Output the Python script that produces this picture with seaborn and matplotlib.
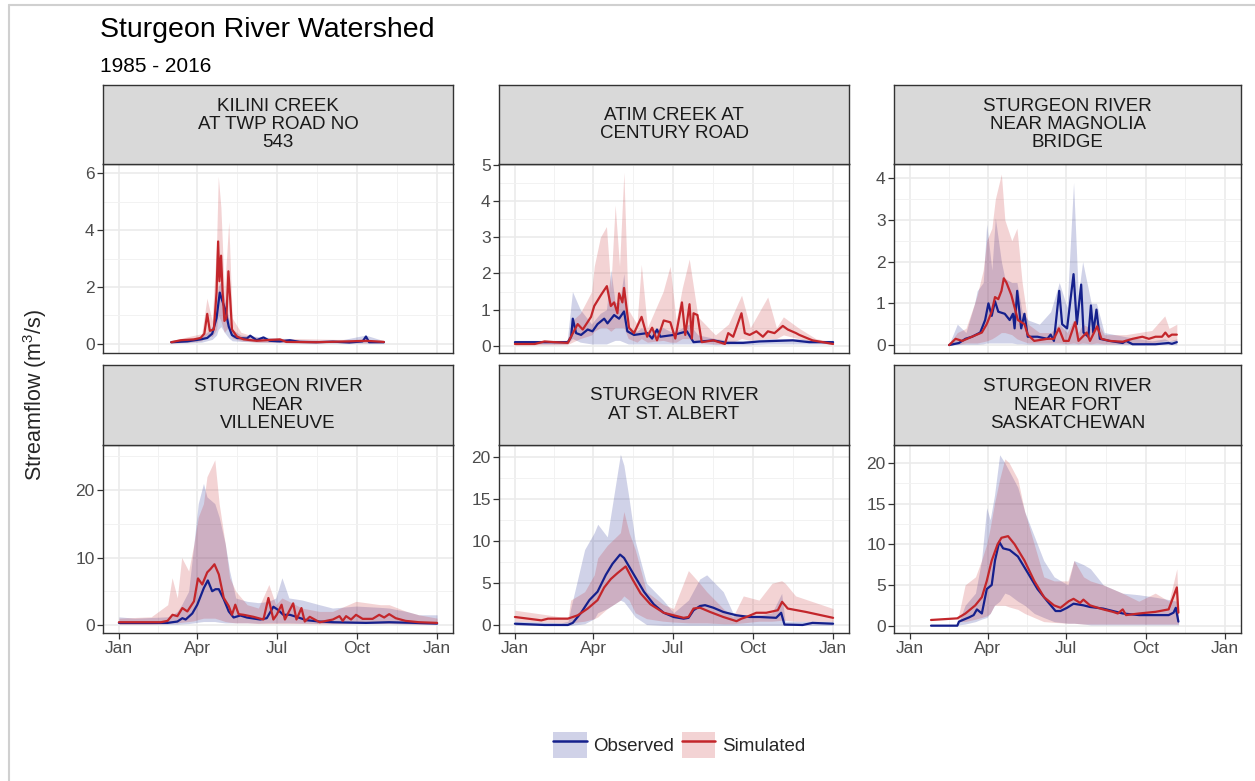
import pandas as pd
import matplotlib
matplotlib.use("Agg")
import matplotlib.pyplot as plt
from matplotlib.lines import Line2D
from matplotlib.patches import Patch
from matplotlib.legend_handler import HandlerTuple
from matplotlib.ticker import MultipleLocator, FixedLocator
import seaborn as sns

sns.set_theme(style="white")
plt.rcParams["font.family"] = ["Liberation Sans", "DejaVu Sans"]
plt.rcParams["mathtext.default"] = "regular"

# ---- data (day of year, median flow and 5-95% band) ----
# Kilini Creek at Twp Road No 543
kil_obs_day = [60, 78.5, 93.7, 101.3, 107, 112, 115.7, 118.7, 122, 126, 129.7, 135.4, 146.8, 150.6, 158, 165.8,
               173, 184.7, 196, 207.5, 226.5, 245.4, 264.4, 279.6, 283.4, 287, 304]
kil_obs = [0.05, 0.08, 0.15, 0.2, 0.35, 0.9, 1.8, 1.5, 1.2, 0.6, 0.3, 0.2, 0.18, 0.28, 0.12, 0.22,
           0.1, 0.08, 0.12, 0.06, 0.05, 0.07, 0.04, 0.08, 0.25, 0.05, 0.05]
kil_sim_day = [60, 71, 86, 93.7, 98, 101.3, 104.3, 108.9, 112, 113.8, 115.3, 117.2, 119, 121, 123.3, 125.6,
               127.8, 129.7, 135.4, 143, 158, 184.7, 192, 226.5, 264.4, 283.4, 304]
kil_sim = [0.05, 0.12, 0.15, 0.2, 0.35, 1.05, 0.45, 0.5, 1.8, 3.6, 2.2, 3.1, 1.8, 0.8, 0.9, 2.55,
           1.5, 0.5, 0.25, 0.15, 0.1, 0.15, 0.06, 0.05, 0.08, 0.1, 0.06]
kil_band_day = [60, 80, 95, 101, 107, 112, 114, 117, 121, 126, 130, 140, 160, 200, 250, 283, 304]
kil_obs_lo = [0.02, 0.03, 0.05, 0.1, 0.15, 0.3, 0.5, 0.6, 0.4, 0.2, 0.1, 0.08, 0.05, 0.03, 0.02, 0.02, 0.02]
kil_obs_hi = [0.12, 0.15, 0.25, 0.4, 0.6, 1.5, 2.0, 2.2, 1.6, 0.9, 0.5, 0.3, 0.25, 0.15, 0.1, 0.3, 0.1]
kil_sim_lo = [0.02, 0.05, 0.1, 0.3, 0.25, 0.5, 1.0, 0.8, 0.4, 0.6, 0.2, 0.1, 0.05, 0.05, 0.04, 0.03, 0.03]
kil_sim_hi = [0.1, 0.25, 0.35, 1.6, 0.8, 3.5, 5.9, 4.8, 1.8, 4.3, 0.9, 0.4, 0.2, 0.18, 0.15, 0.15, 0.12]

# Atim Creek at Century Road
atim_obs_day = [0, 34, 60.7, 64.5, 66.4, 70.2, 75.9, 83.5, 89, 94.8, 102.4, 106.2, 113.8, 119.5, 125.2, 129,
                136.6, 151.7, 157.4, 163, 166.9, 182, 197.3, 204.9, 227.6, 242.8, 261.8, 280.7, 318.7, 337.6, 365]
atim_obs = [0.1, 0.1, 0.1, 0.25, 0.75, 0.35, 0.3, 0.45, 0.4, 0.6, 0.75, 0.62, 0.85, 0.75, 0.95, 0.4,
            0.3, 0.35, 0.2, 0.45, 0.25, 0.3, 0.4, 0.1, 0.15, 0.08, 0.08, 0.12, 0.15, 0.1, 0.1]
atim_sim_day = [0, 22.8, 34, 45.5, 60.7, 72, 77.8, 87.3, 91, 98.6, 105.5, 110, 113.8, 117.6, 119.5, 123.3,
                125.2, 130.9, 136.6, 145.3, 151.7, 157.4, 163, 170.7, 178.3, 184, 191.6, 195.4, 200.3, 203,
                204.9, 209.4, 214.3, 227.6, 240.9, 244.7, 250.4, 259.9, 263.7, 269.3, 277, 284.5, 290.2,
                297.8, 307.3, 313, 322.5, 326.3, 341.4, 365]
atim_sim = [0.05, 0.05, 0.12, 0.1, 0.08, 0.6, 0.45, 0.8, 1.1, 1.4, 1.65, 1.1, 1.2, 0.9, 1.45, 1.2,
            1.6, 0.5, 0.35, 0.8, 0.25, 0.5, 0.15, 0.7, 0.65, 0.2, 1.2, 0.3, 1.15, 0.2,
            0.9, 0.85, 0.1, 0.15, 0.05, 0.35, 0.25, 0.9, 0.35, 0.3, 0.4, 0.25, 0.4,
            0.35, 0.55, 0.45, 0.35, 0.3, 0.15, 0.05]
atim_band_day = [0, 60, 66, 75, 88, 91, 98, 105, 110, 115, 120, 125, 130, 140, 145, 152, 170, 178, 185, 192,
                 200, 210, 230, 245, 260, 270, 290, 300, 308, 325, 345, 365]
atim_obs_lo = [0.05, 0.05, 0.2, 0.1, 0.05, 0.05, 0.05, 0.05, 0.1, 0.15, 0.15, 0.1, 0.05, 0.05, 0.05, 0.05,
               0.05, 0.05, 0.05, 0.05, 0.05, 0.05, 0.03, 0.03, 0.03, 0.03, 0.05, 0.05, 0.05, 0.05, 0.05, 0.05]
atim_obs_hi = [0.15, 0.15, 1.5, 1.0, 0.6, 0.7, 0.9, 1.0, 2.1, 1.2, 1.2, 2.0, 0.5, 0.4, 0.5, 0.4,
               0.5, 0.4, 0.4, 0.5, 0.6, 0.3, 0.2, 0.15, 0.15, 0.15, 0.2, 0.2, 0.2, 0.2, 0.15, 0.15]
atim_sim_lo = [0.02, 0.03, 0.1, 0.2, 0.3, 0.4, 0.5, 0.5, 0.4, 0.5, 0.5, 0.5, 0.2, 0.1, 0.2, 0.1,
               0.15, 0.1, 0.1, 0.2, 0.2, 0.1, 0.05, 0.05, 0.2, 0.15, 0.2, 0.2, 0.3, 0.2, 0.1, 0.03]
atim_sim_hi = [0.1, 0.15, 0.7, 0.9, 1.5, 2.2, 3.0, 3.3, 1.6, 3.9, 2.2, 4.8, 1.0, 0.6, 2.25, 0.5,
               1.5, 2.2, 0.7, 1.6, 2.4, 0.8, 0.3, 0.6, 1.4, 0.5, 1.35, 0.5, 0.8, 0.5, 0.2, 0.1]

# Sturgeon River near Magnolia Bridge
mag_obs_day = [45.5, 56.9, 64.4, 72, 81.5, 87.2, 91, 94.8, 98.6, 102.4, 109.9, 115.6, 119.4, 121.3, 124.3,
               128.9, 132.7, 136.5, 147.8, 159.2, 163, 166.8, 172.9, 176.3, 182, 189.5, 193.3, 198.3, 201,
               206.6, 209.6, 212.3, 216, 219.9, 231.2, 246.4, 250.2, 257.8, 284.3, 299.5, 303.3, 309]
mag_obs = [0.0, 0.05, 0.15, 0.2, 0.3, 0.6, 1.0, 0.7, 1.05, 0.8, 0.75, 0.6, 0.75, 0.4, 1.3,
           0.4, 0.75, 0.2, 0.2, 0.15, 0.25, 0.1, 1.3, 0.5, 0.4, 1.7, 0.5, 1.45, 0.3,
           0.2, 0.95, 0.3, 0.85, 0.15, 0.1, 0.05, 0.1, 0.02, 0.02, 0.05, 0.03, 0.07]
mag_sim_day = [45.5, 53, 60.7, 72, 83.4, 89, 94.8, 98.6, 102.4, 106.1, 108.8, 111.8, 117.5, 121.3, 125.1,
               132.7, 136.5, 144, 159.2, 166.8, 172.5, 178.2, 183.9, 191.4, 195.2, 204.7, 208.5, 216.8,
               221.8, 231.2, 246.4, 257.8, 269.1, 276.7, 284.3, 291.9, 295.7, 299.5, 303.3, 309]
mag_sim = [0.0, 0.15, 0.1, 0.2, 0.3, 0.5, 0.8, 1.15, 1.1, 1.3, 1.6, 1.5, 1.2, 0.9, 0.6,
           0.5, 0.25, 0.1, 0.15, 0.15, 0.4, 0.1, 0.1, 0.55, 0.1, 0.3, 0.1, 0.45,
           0.15, 0.1, 0.08, 0.15, 0.2, 0.15, 0.2, 0.2, 0.3, 0.2, 0.25, 0.25]
mag_band_day = [45.5, 55, 65, 75, 78, 85, 89, 95, 99, 106, 110, 118, 124, 130, 137, 150, 163, 173, 182, 189.5,
                195, 200, 210, 216, 225, 250, 280, 295, 300, 309]
mag_obs_lo = [0.0, 0.01, 0.02, 0.02, 0.02, 0.03, 0.05, 0.05, 0.05, 0.05, 0.05, 0.05, 0.03, 0.03, 0.02,
              0.02, 0.02, 0.02, 0.02, 0.02, 0.02, 0.02, 0.02, 0.02, 0.02, 0.01, 0.01, 0.01, 0.01, 0.01]
mag_obs_hi = [0.02, 0.5, 0.3, 1.0, 1.3, 1.5, 2.9, 1.8, 3.05, 2.0, 1.6, 1.5, 1.5, 0.8, 0.6,
              0.5, 0.8, 1.5, 0.9, 3.9, 1.2, 2.0, 1.0, 1.0, 0.3, 0.2, 0.1, 0.15, 0.1, 0.15]
mag_sim_lo = [0.0, 0.02, 0.05, 0.05, 0.05, 0.08, 0.1, 0.15, 0.2, 0.3, 0.3, 0.25, 0.15, 0.1, 0.05,
              0.05, 0.05, 0.05, 0.03, 0.05, 0.03, 0.05, 0.03, 0.05, 0.03, 0.03, 0.05, 0.1, 0.1, 0.1]
mag_sim_hi = [0.02, 0.3, 0.4, 1.0, 1.2, 1.8, 2.5, 2.8, 3.5, 4.1, 3.0, 2.5, 2.8, 1.5, 0.5,
              0.3, 0.3, 0.5, 0.3, 0.6, 0.3, 0.5, 0.4, 0.6, 0.25, 0.25, 0.35, 0.7, 0.4, 0.5]

# Sturgeon River near Villeneuve
vil_obs_day = [0, 17.8, 55.8, 67.1, 72.8, 76.6, 84.2, 89.9, 97.5, 102, 107, 110.8, 114.6, 120.3, 126, 131.6,
               139.2, 146.8, 162, 169.6, 177.2, 182.9, 188.5, 196.1, 203.7, 215.1, 230.3, 245.4, 283.4, 310,
               340.3, 365]
vil_obs = [0.3, 0.3, 0.3, 0.5, 1.0, 0.8, 1.7, 3.0, 5.5, 6.6, 5.0, 5.3, 5.3, 3.8, 2.0, 1.1,
           1.4, 1.1, 0.8, 1.0, 2.7, 2.2, 1.5, 1.5, 1.2, 0.7, 0.5, 0.4, 0.3, 0.4, 0.3, 0.2]
vil_sim_day = [0, 48.2, 55.8, 61.5, 67.1, 72.8, 78.5, 86.1, 90.7, 95.6, 101.3, 105.1, 109.6, 114.6, 120.3,
               126, 129.7, 133.5, 137.3, 143, 154.4, 165.8, 171.5, 177.2, 181, 186.6, 190.4, 199.9, 203.7,
               209.4, 213.2, 218.9, 230.3, 245.4, 253, 256.8, 260.6, 266.3, 272, 279.6, 291, 298.6, 304.3,
               310, 317.5, 328.9, 344.1, 365]
vil_sim = [0.4, 0.4, 0.6, 1.5, 1.3, 2.5, 2.0, 3.5, 6.9, 6.0, 7.8, 8.3, 9.0, 7.5, 4.0,
           2.8, 1.5, 3.0, 1.6, 1.5, 1.2, 0.8, 4.0, 0.8, 1.5, 3.0, 0.8, 3.2, 0.8,
           2.5, 0.5, 1.2, 0.4, 0.8, 1.3, 0.6, 1.3, 0.8, 1.5, 0.9, 0.9, 1.5, 1.1,
           1.6, 1.0, 0.6, 0.4, 0.3]
vil_band_day = [0, 18, 37, 56, 61, 67, 72, 80, 86, 91, 97, 101, 110, 115, 122, 127, 134, 147, 160, 172, 180,
                187, 195, 210, 230, 245, 272, 300, 310, 330, 344, 365]
vil_obs_lo = [0.1, 0.1, 0.1, 0.1, 0.1, 0.1, 0.15, 0.2, 0.3, 0.4, 0.5, 0.5, 0.5, 0.4, 0.3, 0.3, 0.3, 0.3,
              0.25, 0.3, 0.3, 0.3, 0.3, 0.25, 0.2, 0.2, 0.2, 0.2, 0.2, 0.15, 0.1, 0.1]
vil_obs_hi = [1.2, 1.0, 1.1, 1.2, 1.5, 2.0, 3.0, 5.0, 12.0, 18.0, 21.0, 19.0, 18.0, 16.0, 12.0, 8.0, 4.0, 3.5,
              3.3, 3.5, 4.0, 7.0, 4.0, 3.7, 3.0, 2.5, 2.8, 2.6, 2.5, 2.0, 1.5, 1.5]
vil_sim_lo = [0.1, 0.1, 0.1, 0.2, 0.3, 0.3, 0.4, 0.5, 0.6, 0.8, 1.0, 1.0, 1.0, 0.8, 0.5, 0.4, 0.3, 0.3,
              0.2, 0.2, 0.2, 0.2, 0.2, 0.2, 0.15, 0.15, 0.2, 0.2, 0.2, 0.15, 0.1, 0.1]
vil_sim_hi = [1.0, 1.1, 1.2, 3.0, 7.0, 4.0, 10.0, 8.0, 12.0, 16.0, 18.0, 22.0, 24.5, 18.0, 12.0, 7.0, 5.0, 3.0,
              2.5, 6.0, 3.0, 4.0, 3.5, 2.5, 2.0, 2.0, 3.5, 3.0, 3.0, 2.0, 1.5, 1.0]

# Sturgeon River at St. Albert
stal_obs_day = [0, 34, 60.7, 66.4, 75.9, 85.4, 94.8, 104.3, 111.9, 120.6, 125.2, 136.6, 148, 159.3, 170.7,
                182.1, 193.5, 199.2, 204.9, 212.4, 218.1, 227.6, 239, 254.2, 269.3, 280.7, 299.7, 305.4,
                309.2, 330, 341.4, 365]
stal_obs = [0.2, 0.05, 0.05, 0.3, 1.5, 3.0, 4.0, 6.0, 7.3, 8.4, 8.0, 6.0, 4.0, 2.5, 1.5,
            1.0, 0.8, 0.9, 1.8, 2.3, 2.4, 2.1, 1.6, 1.2, 1.0, 1.0, 0.9, 1.5,
            0.1, 0.05, 0.3, 0.2]
stal_sim_day = [0, 15.2, 30.3, 37.9, 60.7, 72.1, 83.5, 94.8, 102.4, 110, 117.6, 127.1, 134.7, 144.2, 155.5,
                170.7, 182.1, 193.5, 199.2, 204.9, 212.4, 223.8, 239, 254.2, 259.9, 265.6, 276.9, 288.3,
                301.6, 306.5, 313, 333.8, 365]
stal_sim = [1.0, 0.8, 0.6, 0.8, 0.8, 1.2, 2.0, 3.0, 4.5, 5.5, 6.2, 7.0, 5.5, 3.8, 2.5,
            1.5, 1.2, 0.9, 1.0, 2.0, 2.1, 1.6, 1.0, 0.5, 0.8, 1.0, 1.5, 1.5,
            1.8, 2.8, 2.0, 1.6, 0.9]
stal_band_day = [0, 34, 53, 61, 64, 80, 91, 95, 106, 121, 125, 131, 138, 151, 170, 182, 199, 212, 220, 239,
                 250, 262, 280, 295, 306, 310, 322, 365]
stal_obs_lo = [0.0, 0.0, 0.0, 0.0, 0.0, 0.2, 0.8, 1.5, 2.0, 3.0, 2.8, 2.0, 1.0, 0.1, 0.0, 0.0, 0.0, 0.0,
               0.0, 0.0, 0.0, 0.0, 0.0, 0.0, 0.0, 0.0, 0.0, 0.0]
stal_obs_hi = [0.5, 0.4, 0.3, 0.5, 2.0, 9.0, 11.0, 12.0, 10.5, 20.3, 19.0, 15.0, 10.0, 5.0, 3.0, 1.5, 3.0,
               5.5, 6.0, 4.0, 1.5, 1.2, 1.2, 1.5, 3.8, 0.5, 0.5, 0.5]
stal_sim_lo = [0.5, 0.4, 0.3, 0.3, 0.3, 0.5, 0.8, 1.0, 2.0, 3.0, 3.5, 3.0, 1.5, 0.8, 0.5, 0.4, 0.3, 0.3,
               0.3, 0.2, 0.2, 0.3, 0.5, 0.5, 0.6, 0.6, 0.5, 0.5]
stal_sim_hi = [1.8, 1.3, 1.0, 1.0, 3.0, 4.0, 6.0, 8.0, 9.5, 11.0, 13.5, 11.0, 9.0, 4.0, 2.5, 2.0, 6.5,
               5.0, 4.0, 2.0, 1.0, 3.5, 3.0, 5.0, 5.3, 5.0, 3.5, 2.0]

# Sturgeon River near Fort Saskatchewan
fs_obs_day = [24.6, 55, 56.9, 68.2, 73.9, 77.7, 83.4, 89.1, 94.8, 98.6, 103.5, 108, 115.6, 125.1, 136.5,
              147.8, 159.2, 168.7, 174.4, 182, 189.5, 200.9, 208.5, 223.7, 235, 246.4, 265.4, 284.3, 299.5,
              305.2, 307.8, 310.8]
fs_obs = [0.0, 0.0, 0.5, 1.0, 1.3, 2.0, 1.5, 4.5, 5.0, 8.0, 10.3, 9.5, 9.3, 8.5, 6.5,
          4.5, 3.0, 1.8, 1.8, 2.2, 2.7, 2.5, 2.3, 2.1, 1.8, 1.5, 1.3, 1.3, 1.3,
          1.6, 2.2, 0.5]
fs_sim_day = [24.6, 55, 64.4, 75.8, 83.4, 89.1, 94.8, 101.6, 106.1, 113.7, 121.3, 132.7, 144, 155.4, 166.8,
              174.4, 183.9, 189.5, 197.1, 200.9, 208.5, 223.7, 235, 240.7, 246.4, 250.2, 265.4, 284.3, 299.5,
              309, 310.8]
fs_sim = [0.7, 0.9, 1.5, 2.5, 3.5, 5.5, 8.0, 10.0, 10.8, 11.0, 10.0, 8.0, 5.5, 3.5, 2.5,
          2.2, 3.0, 3.3, 2.8, 3.2, 2.5, 2.0, 1.7, 1.5, 2.0, 1.3, 1.5, 1.7, 2.0,
          4.7, 1.6]
fs_band_day = [24.6, 55, 57, 64, 76, 83, 89, 93, 98, 104, 110, 115, 125, 133, 144, 155, 167, 183, 190, 201,
               209, 224, 246, 265, 284, 300, 309, 311]
fs_obs_lo = [0.0, 0.0, 0.1, 0.2, 0.5, 0.8, 1.0, 1.5, 2.5, 3.0, 4.0, 3.8, 3.0, 2.5, 1.5, 1.0, 0.5, 0.3,
             0.3, 0.2, 0.1, 0.1, 0.1, 0.1, 0.1, 0.1, 0.1, 0.1]
fs_obs_hi = [0.0, 0.0, 0.5, 2.5, 4.0, 8.0, 14.5, 13.0, 16.0, 21.0, 20.0, 19.0, 17.0, 14.0, 11.0, 8.0, 6.0,
             5.0, 8.0, 7.5, 7.0, 5.0, 4.0, 3.8, 3.5, 3.2, 3.0, 0.6]
fs_sim_lo = [0.7, 0.9, 0.5, 0.5, 0.8, 1.0, 1.2, 1.5, 2.5, 2.5, 2.5, 2.3, 2.0, 1.5, 1.0, 0.5, 0.4, 0.3,
             0.3, 0.2, 0.2, 0.2, 0.2, 0.2, 0.2, 0.2, 0.2, 0.2]
fs_sim_hi = [0.7, 0.9, 1.5, 5.0, 6.0, 8.0, 10.0, 12.0, 15.0, 18.0, 20.5, 20.0, 18.0, 14.0, 10.0, 6.0, 5.5,
             5.5, 8.0, 6.0, 5.5, 5.0, 4.0, 3.0, 4.0, 3.0, 7.0, 1.8]

station_names = ["KILINI CREEK\nAT TWP ROAD NO\n543", "ATIM CREEK AT\nCENTURY ROAD",
                 "STURGEON RIVER\nNEAR MAGNOLIA\nBRIDGE", "STURGEON RIVER\nNEAR\nVILLENEUVE",
                 "STURGEON RIVER\nAT ST. ALBERT", "STURGEON RIVER\nNEAR FORT\nSASKATCHEWAN"]
month_ticks = [0, 90, 181, 273, 365]
month_labels = ["Jan", "Apr", "Jul", "Oct", "Jan"]
month_minor = [45, 135.5, 227, 319]

panels = [
    (kil_obs_day, kil_obs, kil_sim_day, kil_sim, kil_band_day, kil_obs_lo, kil_obs_hi, kil_sim_lo, kil_sim_hi),
    (atim_obs_day, atim_obs, atim_sim_day, atim_sim, atim_band_day, atim_obs_lo, atim_obs_hi, atim_sim_lo, atim_sim_hi),
    (mag_obs_day, mag_obs, mag_sim_day, mag_sim, mag_band_day, mag_obs_lo, mag_obs_hi, mag_sim_lo, mag_sim_hi),
    (vil_obs_day, vil_obs, vil_sim_day, vil_sim, vil_band_day, vil_obs_lo, vil_obs_hi, vil_sim_lo, vil_sim_hi),
    (stal_obs_day, stal_obs, stal_sim_day, stal_sim, stal_band_day, stal_obs_lo, stal_obs_hi, stal_sim_lo, stal_sim_hi),
    (fs_obs_day, fs_obs, fs_sim_day, fs_sim, fs_band_day, fs_obs_lo, fs_obs_hi, fs_sim_lo, fs_sim_hi),
]
y_limits = [(-0.33, 6.33), (-0.2, 5.03), (-0.19, 4.34), (-1.2, 26.7), (-0.9, 21.4), (-0.9, 22.2)]
y_major = [2, 1, 1, 10, 5, 5]

obs_col = "#15208C"
sim_col = "#C3262B"

W, H = 1255, 781
col_lr = [(103, 453), (499, 849), (894, 1241)]
row_plot = [(164, 353), (445, 633)]
row_strip = [(85, 164), (365, 445)]


def rect(l, t, r, b):
    return [l / W, 1 - b / H, (r - l) / W, (b - t) / H]


fig = plt.figure(figsize=(12.55, 7.81), dpi=100)

for i, p in enumerate(panels):
    od, ov, sd, sv, bd, olo, ohi, slo, shi = p
    r, c = divmod(i, 3)
    l, rr = col_lr[c]
    ax = fig.add_axes(rect(l, row_plot[r][0], rr, row_plot[r][1]))
    ax.fill_between(bd, olo, ohi, color=obs_col, alpha=0.2, lw=0)
    ax.fill_between(bd, slo, shi, color=sim_col, alpha=0.2, lw=0)
    df = pd.concat([
        pd.DataFrame({"day": od, "flow": ov, "series": "Observed"}),
        pd.DataFrame({"day": sd, "flow": sv, "series": "Simulated"}),
    ])
    sns.lineplot(data=df, x="day", y="flow", hue="series", palette={"Observed": obs_col, "Simulated": sim_col},
                 estimator=None, sort=False, lw=1.6, legend=False, ax=ax)
    ax.set_xlim(-18.25, 383.25)
    ax.set_ylim(*y_limits[i])
    ax.xaxis.set_major_locator(FixedLocator(month_ticks))
    ax.xaxis.set_minor_locator(FixedLocator(month_minor))
    ax.yaxis.set_major_locator(MultipleLocator(y_major[i]))
    ax.yaxis.set_minor_locator(MultipleLocator(y_major[i] / 2))
    ax.grid(which="major", color="#EBEBEB", lw=1.2)
    ax.grid(which="minor", color="#F2F2F2", lw=0.7)
    ax.set_axisbelow(True)
    ax.set_xlabel("")
    ax.set_ylabel("")
    for s in ax.spines.values():
        s.set_visible(True)
        s.set_color("#333333")
        s.set_linewidth(1.0)
    ax.tick_params(which="major", direction="out", length=4, width=0.9, color="#333333",
                   labelcolor="#4D4D4D", labelsize=12.5, pad=2, bottom=True, left=True)
    ax.tick_params(which="minor", length=0)
    if r == 1:
        ax.set_xticklabels(month_labels)
    else:
        ax.tick_params(axis="x", which="major", length=0, labelbottom=False)

    sax = fig.add_axes(rect(l, row_strip[r][0], rr, row_strip[r][1]))
    sax.set_facecolor("#D9D9D9")
    sax.set_xticks([])
    sax.set_yticks([])
    for s in sax.spines.values():
        s.set_visible(True)
        s.set_color("#333333")
        s.set_linewidth(1.0)
    sax.text(0.5, 0.5, station_names[i], ha="center", va="center", fontsize=13.5,
             color="#1A1A1A", linespacing=1.1, transform=sax.transAxes)

fig.text(100 / W, 1 - 30 / H, "Sturgeon River Watershed", fontsize=20.5, va="center", ha="left", color="black")
fig.text(100 / W, 1 - 67 / H, "1985 - 2016", fontsize=15, va="center", ha="left", color="black")
fig.text(35 / W, 1 - 395 / H, "Streamflow (m$^{3}$/s)", fontsize=15.5, rotation=90, va="center", ha="center")

handles = [
    (Patch(facecolor=obs_col, alpha=0.2, edgecolor="none"), Line2D([], [], color=obs_col, lw=1.8)),
    (Patch(facecolor=sim_col, alpha=0.2, edgecolor="none"), Line2D([], [], color=sim_col, lw=1.8)),
]
fig.legend(handles, ["Observed", "Simulated"], loc="center", bbox_to_anchor=(679 / W, 1 - 745 / H), ncol=2,
           frameon=False, handler_map={tuple: HandlerTuple(ndivide=1, pad=0)}, handlelength=1.8,
           handleheight=1.8, handletextpad=0.35, columnspacing=0.4, fontsize=13.5)

# light frame around the picture (top and left edges)
fig.add_artist(Line2D([9 / W, 1], [1 - 5 / H, 1 - 5 / H], transform=fig.transFigure, color="#D0D0D0", lw=1.5))
fig.add_artist(Line2D([9 / W, 9 / W], [0, 1 - 5 / H], transform=fig.transFigure, color="#D0D0D0", lw=1.5))

fig.savefig("out.png", dpi=100, facecolor="white")
